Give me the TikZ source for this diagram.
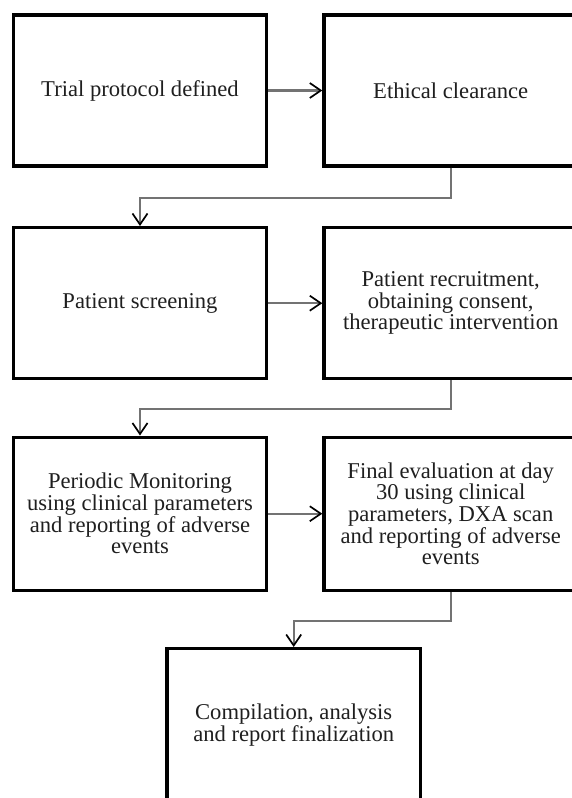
\documentclass[tikz,border=0pt]{standalone}
\usepackage{fontspec}
\setmainfont{Liberation Serif}
\usetikzlibrary{arrows.meta}
\definecolor{linkgray}{RGB}{115,115,115}
\tikzset{
  stepbox/.style={draw=black, line width=3.4pt, minimum width=253.4pt, minimum height=151pt,
    inner sep=0pt, align=center, text=black!88,
    font=\fontsize{22.6}{21.7}\selectfont},
  link/.style={draw=linkgray, line width=2.1pt,
    -{Straight Barb[length=11pt,width=15pt,line width=1.7pt,color=black]}}
}
\begin{document}
\begin{tikzpicture}[x=1pt,y=-1pt]
\useasboundingbox (0,0) rectangle (572,798);
\node[stepbox] (b1) at (140,90.5) {Trial protocol defined};
\node[stepbox] (b2) at (450.7,90.5) {Ethical clearance};
\node[stepbox] (b3) at (140,303.2) {Patient screening};
\node[stepbox] (b4) at (450.7,303.2) {Patient recruitment,\\obtaining consent,\\therapeutic intervention};
\node[stepbox, minimum height=153pt] (b5) at (140,513.7) {Periodic Monitoring\\using clinical parameters\\and reporting of adverse\\events};
\node[stepbox, minimum height=153pt] (b6) at (450.7,513.7) {Final evaluation at day\\30 using clinical\\parameters, DXA scan\\and reporting of adverse\\events};
\node[stepbox, minimum height=153pt] (b7) at (293.7,725.2) {Compilation, analysis\\and report finalization};
\coordinate (m1) at (0,198);
\coordinate (m2) at (0,409.3);
\coordinate (m3) at (0,620.7);
\draw[link] (b1.east) -- (b2.west);
\draw[link] (b3.east) -- (b4.west);
\draw[link] (b5.east) -- (b6.west);
\draw[link] (b2.south) -- (b2.south |- m1) -| (b3.north);
\draw[link] (b4.south) -- (b4.south |- m2) -| (b5.north);
\draw[link] (b6.south) -- (b6.south |- m3) -| (b7.north);
\end{tikzpicture}
\end{document}
